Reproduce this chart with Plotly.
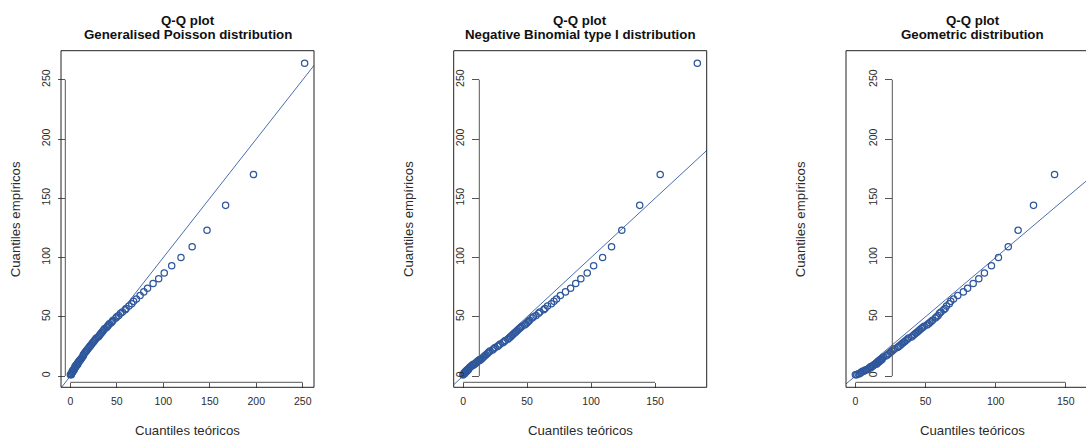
import plotly.graph_objects as go

W, H = 1086, 437

# Sorted sample: empirical quantiles, shared by the three fitted models
empirical = [1, 1, 2, 2, 3, 3, 4, 4, 5, 5, 6, 6, 7, 7, 8, 8, 9, 9, 10, 10, 11, 11, 12, 12, 13, 13, 14, 14,
             15, 16, 17, 18, 19, 20, 21, 22, 23, 24, 25, 26, 27, 28, 29, 30, 31, 32, 33, 34, 35, 36, 37, 38, 39, 40,
             41, 42, 43, 44, 45, 46, 47,
             49, 50, 51, 53, 54, 56, 57, 59, 61, 63, 65, 68, 71, 74, 78, 82, 87, 93,
             100, 109, 123, 144, 170, 264]

# Theoretical quantiles of each fitted distribution
theo_gpoisson = [0, 1, 1, 1, 2, 2, 2, 3, 3, 4, 4, 4, 5, 5, 5, 6, 6, 7, 7, 8, 8, 8, 9, 9, 10, 10, 11, 11,
                 12, 13, 14, 14, 15, 16, 17, 18, 19, 20, 21, 22, 23, 24, 25, 26, 27, 28, 30, 31, 32, 33, 34, 35, 36, 37,
                 39, 40, 41, 42, 44, 45, 46,
                 49, 50, 52, 54, 56, 59, 60, 63, 66, 68, 71, 75, 79, 83, 89, 95, 101, 109,
                 119, 131, 147, 167, 197, 252]
theo_nbi = [0, 0, 1, 1, 1, 2, 2, 3, 3, 4, 4, 4, 5, 5, 6, 6, 7, 8, 8, 9, 10, 10, 11, 11, 12, 13, 13, 14,
            15, 16, 17, 18, 19, 20, 21, 23, 24, 25, 27, 28, 29, 31, 32, 33, 35, 36, 37, 38, 39, 40, 41, 42, 43, 44,
            45, 46, 48, 49, 50, 51, 52,
            54, 55, 57, 59, 60, 63, 64, 66, 69, 71, 73, 76, 80, 84, 88, 92, 97, 102,
            109, 116, 124, 138, 154, 183]
theo_geom = [0, 1, 2, 3, 4, 4, 5, 6, 7, 8, 9, 9, 10, 11, 11, 12, 13, 13, 14, 15, 15, 16, 16, 17, 17, 18, 18, 19,
             19, 20, 22, 23, 24, 25, 26, 27, 28, 30, 31, 32, 33, 34, 35, 36, 37, 38, 40, 41, 42, 43, 44, 45, 46, 47,
             48, 49, 51, 52, 53, 54, 55,
             57, 58, 59, 60, 61, 63, 64, 65, 67, 68, 70, 73, 77, 80, 84, 88, 92, 97,
             102, 109, 116, 127, 142, 167]

theoretical = [theo_gpoisson, theo_nbi, theo_geom]
subtitles = ["Generalised Poisson distribution",
             "Negative Binomial type I distribution",
             "Geometric distribution"]
x_ticks = [[0, 50, 100, 150, 200, 250], [0, 50, 100, 150], [0, 50, 100, 150]]
y_ticks = [0, 50, 100, 150, 200, 250]

# Panel geometry (pixels)
PANEL_LEFT = [61.0, 453.7, 846.0]
BOX_W = 253.0
BOX_TOP, BOX_BOTTOM = 50.7, 387.3
YAXIS_OFFSET = [4.3, 25.6, 46.3]
XAXIS_Y = 382.3

PT_COLOR = "#2F579C"
LINE_COLOR = "#4A6DAE"
AXIS_COLOR = "#555555"
TEXT_COLOR = "#2b2b2b"
FONT = "Liberation Sans, Arial, sans-serif"


def px(x):
    return x / W


def py(y):
    return 1 - y / H


def padded(values):
    lo, hi = min(values), max(values)
    d = (hi - lo) * 0.04
    return lo - d, hi + d


fig = go.Figure()
ylo, yhi = padded(empirical)
shapes, annotations = [], []

for i, theo in enumerate(theoretical):
    n = i + 1
    sfx = "" if n == 1 else str(n)
    xlo, xhi = padded(theo)
    left = PANEL_LEFT[i]
    right = left + BOX_W
    right_vis, xhi_vis = right, xhi
    if right > W:
        right_vis = W
        xhi_vis = xlo + (W - left) / BOX_W * (xhi - xlo)

    lo, hi = min(xlo, ylo) - 10, max(xhi, yhi) + 10
    fig.add_trace(go.Scatter(x=[lo, hi], y=[lo, hi], mode="lines",
                             line=dict(color=LINE_COLOR, width=1),
                             xaxis="x" + sfx, yaxis="y" + sfx, hoverinfo="skip"))
    fig.add_trace(go.Scatter(x=theo, y=empirical, mode="markers",
                             marker=dict(symbol="circle-open", size=6.3, color=PT_COLOR,
                                         line=dict(width=1.25, color=PT_COLOR)),
                             xaxis="x" + sfx, yaxis="y" + sfx, cliponaxis=False))

    common = dict(showgrid=False, zeroline=False, showline=False, ticks="outside",
                  tickcolor=AXIS_COLOR, tickwidth=1, anchor="free",
                  tickfont=dict(family=FONT, size=10.5, color=TEXT_COLOR))
    fig.update_layout(**{
        "xaxis" + sfx: dict(common, domain=[px(left), px(right_vis)], range=[xlo, xhi_vis],
                            tickvals=x_ticks[i], ticklen=5, position=py(XAXIS_Y),
                            ticklabelstandoff=4),
        "yaxis" + sfx: dict(common, domain=[py(BOX_BOTTOM), py(BOX_TOP)], range=[ylo, yhi],
                            tickvals=y_ticks, ticklen=7, tickangle=-90,
                            position=px(left + YAXIS_OFFSET[i]), ticklabelstandoff=4),
    })

    # plot box
    shapes.append(dict(type="rect", xref="paper", yref="paper",
                       x0=px(left), x1=px(right), y0=py(BOX_BOTTOM), y1=py(BOX_TOP),
                       line=dict(color="#222222", width=1)))
    # axis lines spanning first to last tick
    shapes.append(dict(type="line", xref="x" + sfx, yref="paper",
                       x0=x_ticks[i][0], x1=x_ticks[i][-1], y0=py(XAXIS_Y), y1=py(XAXIS_Y),
                       line=dict(color=AXIS_COLOR, width=1)))
    shapes.append(dict(type="line", xref="paper", yref="y" + sfx,
                       x0=px(left + YAXIS_OFFSET[i]), x1=px(left + YAXIS_OFFSET[i]),
                       y0=y_ticks[0], y1=y_ticks[-1],
                       line=dict(color=AXIS_COLOR, width=1)))

    cx = px(left + BOX_W / 2)
    annotations += [
        dict(text="<b>Q-Q plot</b>", x=cx, y=py(20.5), xref="paper", yref="paper",
             showarrow=False, xanchor="center", yanchor="middle",
             font=dict(family=FONT, size=13.3, color="#111111")),
        dict(text="<b>" + subtitles[i] + "</b>", x=cx, y=py(34.5), xref="paper", yref="paper",
             showarrow=False, xanchor="center", yanchor="middle",
             font=dict(family=FONT, size=13.3, color="#111111")),
        dict(text="Cuantiles teóricos", x=cx, y=py(430), xref="paper", yref="paper",
             showarrow=False, xanchor="center", yanchor="middle",
             font=dict(family=FONT, size=13.2, color=TEXT_COLOR)),
        dict(text="Cuantiles empíricos", x=px(left - 45.7), y=py((BOX_TOP + BOX_BOTTOM) / 2),
             xref="paper", yref="paper", showarrow=False, textangle=-90,
             xanchor="center", yanchor="middle",
             font=dict(family=FONT, size=13.2, color=TEXT_COLOR)),
    ]

fig.update_layout(width=W, height=H, margin=dict(l=0, r=0, t=0, b=0),
                  paper_bgcolor="white", plot_bgcolor="white", showlegend=False,
                  shapes=shapes, annotations=annotations)

fig.write_html("out.html")
